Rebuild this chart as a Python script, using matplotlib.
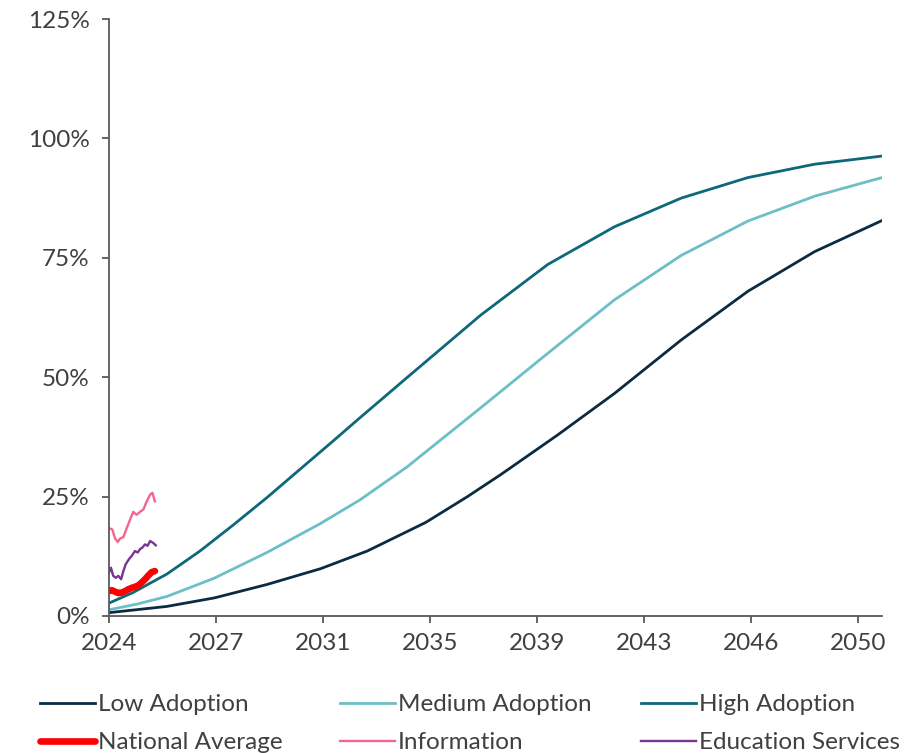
import matplotlib
matplotlib.use("Agg")
import matplotlib.pyplot as plt
from matplotlib.ticker import FuncFormatter

plt.rcParams['font.family'] = ['Lato', 'DejaVu Sans']

# ---- data (x = years after start of 2024, y = percent) ----
high_t = [0, 0.85, 2.06, 3.23, 4.40, 5.61, 6.78, 7.95, 8.91, 10.58, 13.2, 15.58,
          17.95, 20.32, 22.69, 25.06, 27.45]
high_v = [2.7, 4.9, 8.8, 13.6, 19.0, 24.8, 30.7, 36.6, 41.5, 49.9, 63.0, 73.6,
          81.5, 87.5, 91.8, 94.6, 96.3]

med_t = [0, 1.0, 2.06, 3.73, 5.61, 7.49, 8.91, 10.58, 13.2, 15.58, 17.95, 20.32,
         22.69, 25.06, 27.45]
med_v = [1.3, 2.5, 4.1, 7.9, 13.3, 19.3, 24.3, 31.2, 43.6, 55.0, 66.2, 75.5,
         82.7, 87.9, 91.8]

low_t = [0, 2.05, 3.75, 5.61, 7.51, 9.17, 11.25, 12.73, 13.91, 15.93, 17.95, 20.32,
         22.69, 25.06, 27.45]
low_v = [0.7, 2.0, 3.8, 6.6, 9.9, 13.6, 19.6, 25.0, 29.6, 37.9, 46.6, 57.8,
         68.0, 76.3, 82.8]

info_t = [0.0, 0.12, 0.21, 0.31, 0.39, 0.51, 0.63, 0.75, 0.86, 0.98, 1.10, 1.22,
          1.34, 1.46, 1.54, 1.63]
info_v = [18.4, 18.1, 16.3, 15.5, 16.2, 16.5, 18.4, 20.2, 21.8, 21.2, 21.8, 22.3,
          24.0, 25.4, 25.8, 24.0]

edu_t = [0.00, 0.07, 0.15, 0.24, 0.33, 0.43, 0.51, 0.59, 0.71, 0.81, 0.92, 1.02,
         1.10, 1.18, 1.28, 1.37, 1.46, 1.57, 1.66]
edu_v = [9.1, 10.1, 8.4, 8.0, 8.4, 7.7, 9.4, 10.8, 11.9, 12.6, 13.6, 13.3,
         14.0, 14.3, 15.0, 14.7, 15.7, 15.3, 14.8]

nat_t = [0.00, 0.10, 0.21, 0.33, 0.45, 0.57, 0.69, 0.81, 0.92, 1.04, 1.16, 1.28,
         1.40, 1.52, 1.63]
nat_v = [5.2, 5.4, 5.1, 4.8, 4.9, 5.2, 5.6, 5.9, 6.1, 6.4, 7.0, 7.7, 8.5, 9.2, 9.4]

tick_pos = [0, 3.8, 7.6, 11.4, 15.2, 19.0, 22.8, 26.6]
tick_labels = ['2024', '2027', '2031', '2035', '2039', '2043', '2046', '2050']
y_ticks = [0, 25, 50, 75, 100, 125]

# ---- colours ----
c_low = '#0b2b43'
c_med = '#6cbfc7'
c_high = '#0d6879'
c_nat = '#ff0000'
c_info = '#f5648f'
c_edu = '#7a3592'
txt = '#404040'
spine = '#595959'

fig = plt.figure(figsize=(9.24, 7.53), dpi=100)
ax = fig.add_axes([109/924, 1-616/753, (882-109)/924, (616-19)/753])

ax.plot(low_t, low_v, color=c_low, lw=2.0, label='Low Adoption', solid_joinstyle='round')
ax.plot(med_t, med_v, color=c_med, lw=2.0, label='Medium Adoption', solid_joinstyle='round')
ax.plot(high_t, high_v, color=c_high, lw=2.0, label='High Adoption', solid_joinstyle='round')
ax.plot(nat_t, nat_v, color=c_nat, lw=4.8, label='National Average', solid_capstyle='round',
        solid_joinstyle='round')
ax.plot(info_t, info_v, color=c_info, lw=1.7, label='Information')
ax.plot(edu_t, edu_v, color=c_edu, lw=1.7, label='Education Services')

ax.set_xlim(0, 27.45)
ax.set_ylim(0, 125)
ax.set_xticks(tick_pos)
ax.set_xticklabels(tick_labels)
ax.set_yticks(y_ticks)
ax.yaxis.set_major_formatter(FuncFormatter(lambda v, p: f'{int(v)}%'))

for s in ['top', 'right']:
    ax.spines[s].set_visible(False)
for s in ['left', 'bottom']:
    ax.spines[s].set_color(spine)
    ax.spines[s].set_linewidth(1.3)
ax.tick_params(axis='both', direction='out', length=5, width=1.3, color=spine,
               labelsize=17.5, labelcolor=txt)
ax.tick_params(axis='x', pad=7)
ax.tick_params(axis='y', pad=9)

# ---- legend: three columns, two rows ----
lines = ax.get_lines()
cols = [(lines[0], lines[3]), (lines[1], lines[4]), (lines[2], lines[5])]
xs = [40/924, 340/924, 641/924]
for (h1, h2), x0 in zip(cols, xs):
    fig.legend([h1, h2], [h1.get_label(), h2.get_label()],
               loc='upper left', bbox_to_anchor=(x0, 1-694/753),
               frameon=False, fontsize=17.5, handlelength=2.25,
               handletextpad=0.12, borderpad=0, borderaxespad=0,
               labelspacing=0.7, labelcolor=txt)

fig.savefig('out.png', dpi=100)
